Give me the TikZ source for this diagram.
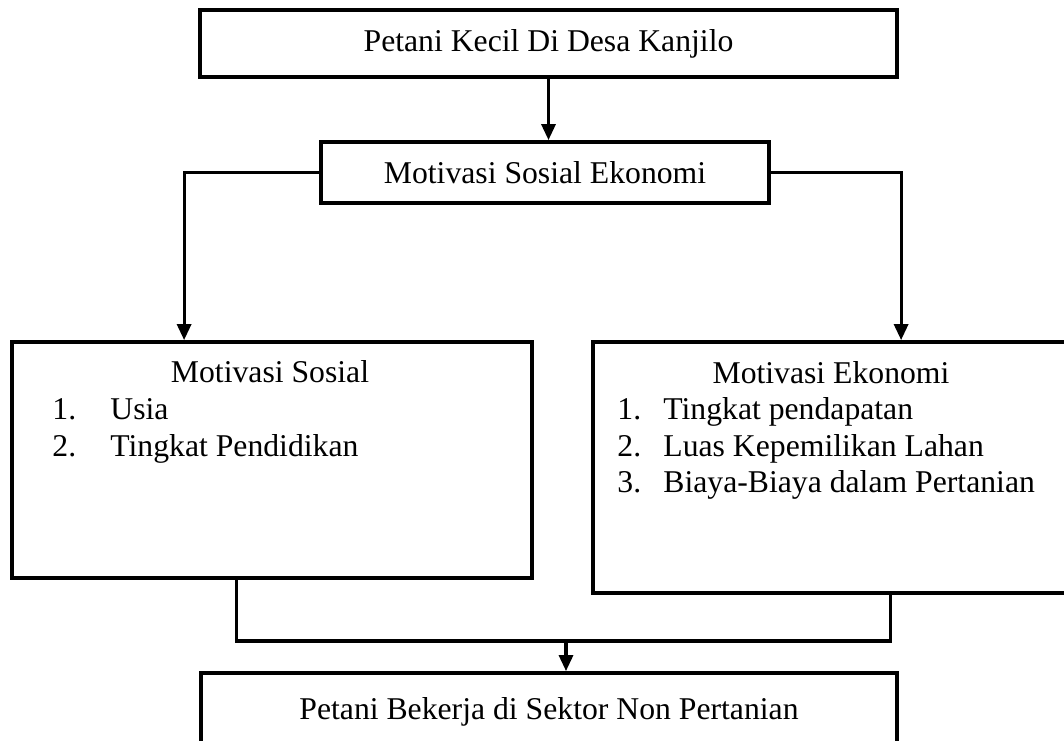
\documentclass[tikz,border=0pt]{standalone}
\usepackage{fontspec}
\setmainfont{Liberation Serif}
\usetikzlibrary{arrows.meta}

\begin{document}
\begin{tikzpicture}[x=0.5pt, y=-0.5pt,
  kotak/.style={draw, line width=1.9pt, inner sep=0pt},
  huruf/.style={font=\fontsize{15.85}{18.5}\selectfont},
  panah/.style={line width=1.6pt, -{Triangle[length=8pt, width=7pt]}},
  garis/.style={line width=1.6pt}]
  \useasboundingbox (0,0) rectangle (1064,740);

  \node[kotak, huruf, minimum width=348.5pt, minimum height=33.5pt] (petani) at (548.5,43.5) {Petani Kecil Di Desa Kanjilo};
  \node[kotak, huruf, minimum width=224pt, minimum height=30.5pt] (motivasi) at (545,172.5) {Motivasi Sosial Ekonomi};
  \node[kotak, minimum width=260pt, minimum height=118pt] (sosial) at (272,460) {};
  \node[kotak, minimum width=238pt, minimum height=125.5pt] (ekonomi) at (831,467.5) {};
  \node[kotak, huruf, minimum width=348pt, minimum height=39pt] (bekerja) at (549,712) {Petani Bekerja di Sektor Non Pertanian};

  % isi kotak sosial dan ekonomi
  \node[huruf, anchor=base, inner sep=0pt] (jdlsosial) at (270,382) {Motivasi Sosial};
  \foreach \no/\teks [count=\i] in {1./Usia, 2./Tingkat Pendidikan}
    \node[huruf, anchor=base west, inner sep=0pt] (sosial\i) at (52,382+37*\i) {\makebox[29pt][l]{\no}\teks};
  \node[huruf, anchor=base, inner sep=0pt] (jdlekonomi) at (831,383) {Motivasi Ekonomi};
  \foreach \no/\teks [count=\i] in {1./Tingkat pendapatan, 2./Luas Kepemilikan Lahan, 3./Biaya-Biaya dalam Pertanian}
    \node[huruf, anchor=base west, inner sep=0pt] (ekonomi\i) at (617,383+36.5*\i) {\makebox[23pt][l]{\no}\teks};

  \draw[panah] (petani.south) -- (petani.south |- motivasi.north);
  \draw[panah] (motivasi.west) -| ([xshift=87pt]sosial.north west);
  \draw[panah] (motivasi.east) -| ([xshift=155pt]ekonomi.north west);

  \coordinate (gabung) at (566,641);
  \draw[garis] ([xshift=113pt]sosial.south west) |- (gabung) -| ([xshift=149.5pt]ekonomi.south west);
  \draw[panah] (gabung) -- (gabung |- bekerja.north);
\end{tikzpicture}
\end{document}
